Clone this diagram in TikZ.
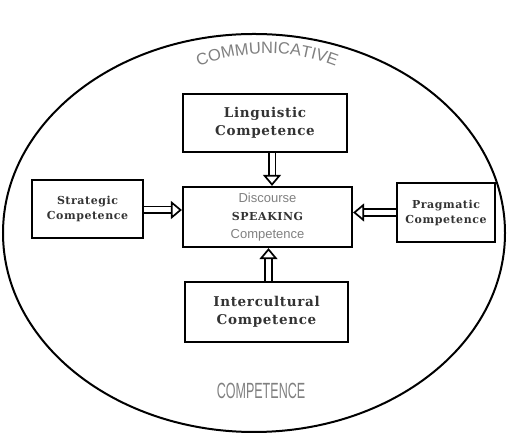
\documentclass[tikz,border=0pt]{standalone}
\usepackage{fontspec}
\setmainfont{DejaVu Serif}
\newfontfamily\boxfont[LetterSpace=5]{DejaVu Serif}
\newfontfamily\labelfont{Liberation Sans}
\newfontfamily\narrowfont[FakeStretch=0.57]{Liberation Sans}
\usetikzlibrary{arrows.meta,decorations.text}

\begin{document}
\begin{tikzpicture}[x=1pt,y=1pt,
    compbox/.style={draw, line width=2.2pt, inner sep=0pt, align=center, text=black!80,
      font=\boxfont\bfseries\fontsize{13.5}{18}\selectfont},
    smallbox/.style={compbox, font=\boxfont\bfseries\fontsize{11}{15}\selectfont},
    hollow/.style={double, double distance=5pt, line width=1.7pt,
      -{Triangle[open, length=11pt, width=18pt, line width=1.7pt]}}]
  \useasboundingbox (0,0) rectangle (510,435);
  \draw[line width=2pt] (254,202) ellipse (251 and 199);
  \path[decorate, decoration={text along path, text align=center, text color=gray,
      text={|\labelfont\fontsize{16.5}{16.5}\selectfont|COMMUNICATIVE}}]
    (193,366) arc[start angle=113.5, end angle=66.5, radius=186];
  \node[font=\narrowfont\fontsize{22}{22}\selectfont, text=gray] (comp) at (261,44) {COMPETENCE};

  \node[compbox, minimum width=164pt, minimum height=58pt] (ling) at (265,312) {Linguistic\\Competence};
  \node[compbox, minimum width=169pt, minimum height=60pt, font=\fontsize{13}{18}\selectfont] (disc) at (267.5,218)
    {{\labelfont\color{gray}Discourse}\\{\boxfont\bfseries\fontsize{11}{18}\selectfont SPEAKING}\\{\labelfont\color{gray}Competence}};
  \node[smallbox, minimum width=111pt, minimum height=58pt] (strat) at (87.5,226) {Strategic\\Competence};
  \node[smallbox, minimum width=98pt, minimum height=59pt] (prag) at (446,222.5) {Pragmatic\\Competence};
  \node[compbox, minimum width=163pt, minimum height=60pt] (inter) at (266.5,123) {Intercultural\\Competence};

  \draw[hollow] ([xshift=7pt]ling.south) -- ([xshift=7pt]ling.south |- disc.north);
  \draw[hollow] ([xshift=2pt]inter.north) -- ([xshift=2pt]inter.north |- disc.south);
  \draw[hollow] ([yshift=-1pt]strat.east) -- ([yshift=-1pt]strat.east -| disc.west);
  \draw[hollow] (prag.west) -- (prag.west -| disc.east);
\end{tikzpicture}
\end{document}
